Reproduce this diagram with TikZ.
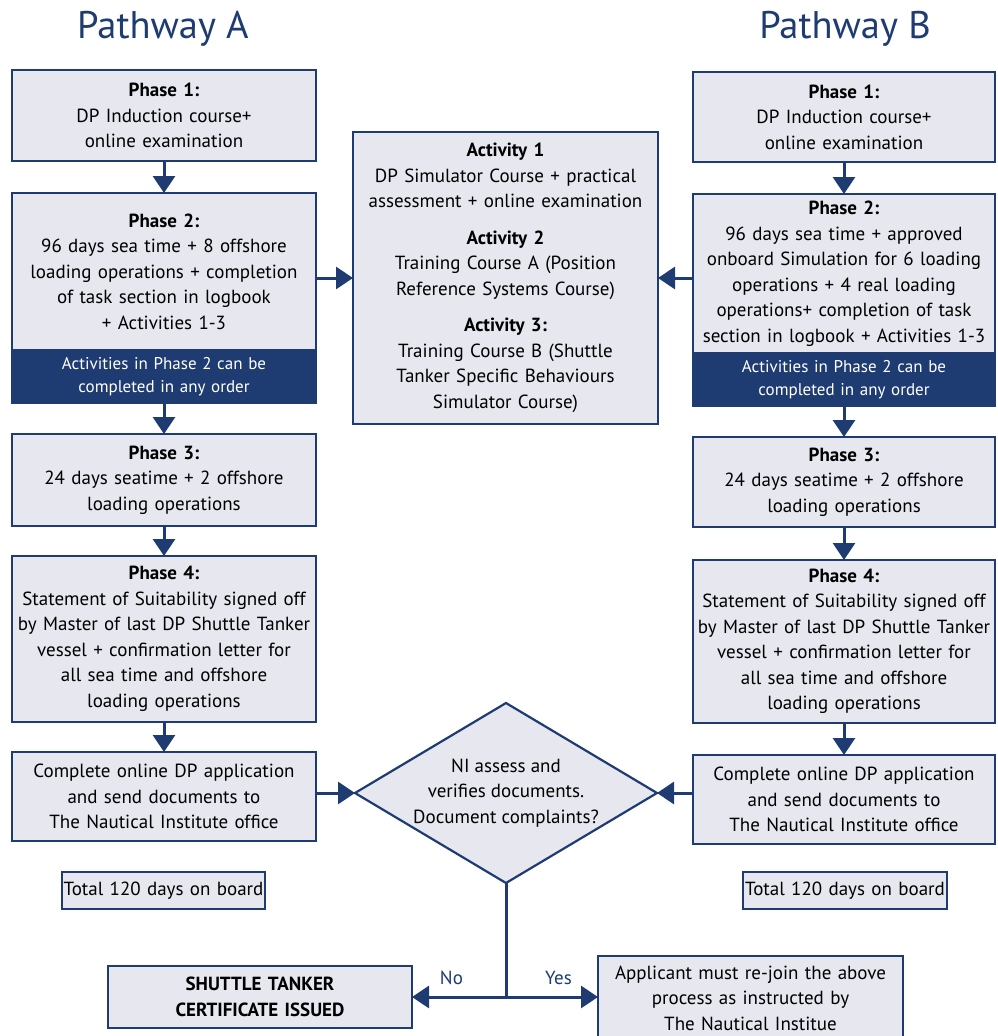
\documentclass[tikz,border=0pt]{standalone}
\usepackage{fontspec}
\setmainfont{PT Sans}
\usetikzlibrary{arrows.meta,positioning,shapes.geometric}
\definecolor{niblue}{HTML}{1E3C71}
\definecolor{nifill}{HTML}{E6E7EF}
\newcommand{\bodyfont}{\fontsize{19}{25.5}\selectfont}
\newcommand{\bandfont}{\fontsize{17}{23}\selectfont}
\newcommand{\headfont}{\fontsize{38.5}{44}\selectfont}
\tikzstyle{block} = [rectangle, draw=niblue, fill=nifill, line width=2.2pt,
    inner sep=0pt, outer sep=0pt, align=center, text width=296pt,
    minimum width=304pt, font=\bodyfont]
\tikzstyle{band} = [rectangle, draw=niblue, fill=niblue, line width=2.2pt,
    text=white, inner sep=0pt, outer sep=0pt, align=center, text width=296pt,
    minimum width=304pt, minimum height=53pt, font=\bandfont]
\tikzstyle{decision} = [diamond, draw=niblue, fill=nifill, line width=2.2pt,
    inner sep=0pt, outer sep=0pt, minimum width=302pt, minimum height=180pt]
\tikzstyle{flow} = [-{Triangle[length=17pt,width=22pt]}, draw=niblue, line width=3pt]

\begin{document}
\begin{tikzpicture}[x=1pt,y=-1pt]
  \useasboundingbox (0,0) rectangle (997,1036);

  \node[text=niblue, font=\headfont] (heada) at (163,29) {Pathway A};
  \node[text=niblue, font=\headfont] (headb) at (845,29) {Pathway B};

  % pathway A
  \node[block, minimum height=91pt]  (p1a) at (164,115.5)   {\textbf{Phase 1:}\\DP Induction course+\\online examination};
  \node[block, minimum height=157pt] (p2a) [below=32pt of p1a] {\textbf{Phase 2:}\\96 days sea time + 8 offshore\\loading operations + completion\\of task section in logbook\\+ Activities 1-3};
  \node[band]                        (n2a) [below=0pt of p2a]  {Activities in Phase 2 can be\\completed in any order};
  \node[block, minimum height=92pt]  (p3a) [below=31pt of n2a] {\textbf{Phase 3:}\\24 days seatime + 2 offshore\\loading operations};
  \node[block, minimum height=166pt] (p4a) [below=30pt of p3a] {\textbf{Phase 4:}\\Statement of Suitability signed off\\by Master of last DP Shuttle Tanker\\vessel + confirmation letter for\\all sea time and offshore\\loading operations};
  \node[block, minimum height=89pt]  (appa) [below=30pt of p4a] {Complete online DP application\\and send documents to\\The Nautical Institute office};
  \node[block, text width=203pt, minimum width=203pt, minimum height=37pt] (tota) at (163.5,890.5) {Total 120 days on board};

  % pathway B
  \node[block, minimum width=302pt, minimum height=90pt]  (p1b) at (844,117) {\textbf{Phase 1:}\\DP Induction course+\\online examination};
  \node[block, minimum width=302pt, minimum height=159pt] (p2b) [below=32pt of p1b] {\textbf{Phase 2:}\\96 days sea time + approved\\onboard Simulation for 6 loading\\operations + 4 real loading\\operations+ completion of task\\section in logbook + Activities 1-3};
  \node[band, minimum width=302pt]                        (n2b) [below=0pt of p2b] {Activities in Phase 2 can be\\completed in any order};
  \node[block, minimum width=302pt, minimum height=90pt]  (p3b) [below=31pt of n2b] {\textbf{Phase 3:}\\24 days seatime + 2 offshore\\loading operations};
  \node[block, minimum width=302pt, minimum height=163pt] (p4b) [below=33pt of p3b] {\textbf{Phase 4:}\\Statement of Suitability signed off\\by Master of last DP Shuttle Tanker\\vessel + confirmation letter for\\all sea time and offshore\\loading operations};
  \node[block, minimum width=302pt, minimum height=89pt]  (appb) [below=32pt of p4b] {Complete online DP application\\and send documents to\\The Nautical Institute office};
  \node[block, text width=204pt, minimum width=204pt, minimum height=37pt] (totb) at (845,890.5) {Total 120 days on board};

  % middle
  \node[block, minimum width=305pt, minimum height=292pt] (act) at (505.5,278) {\textbf{Activity 1}\\DP Simulator Course + practical\\assessment + online examination\\[11pt]\textbf{Activity 2}\\Training Course A (Position\\Reference Systems Course)\\[11pt]\textbf{Activity 3:}\\Training Course B (Shuttle\\Tanker Specific Behaviours\\Simulator Course)};
  \node[decision] (ni) at (506,793) {};
  \node[align=center, font=\bodyfont] (nitext) at (ni) {NI assess and\\verifies documents.\\Document complaints?};
  \node[block, minimum height=62pt] (cert) at (260,997) {\textbf{SHUTTLE TANKER}\\\textbf{CERTIFICATE ISSUED}};
  \node[block, minimum width=305pt, minimum height=84pt] (rejoin) at (750.5,998) {Applicant must re-join the above\\process as instructed by\\The Nautical Institue};

  \draw[flow] (p1a) -- (p2a);
  \draw[flow] (n2a) -- (p3a);
  \draw[flow] (p3a) -- (p4a);
  \draw[flow] (p4a) -- (appa);
  \draw[flow] (p1b) -- (p2b);
  \draw[flow] (n2b) -- (p3b);
  \draw[flow] (p3b) -- (p4b);
  \draw[flow] (p4b) -- (appb);
  \draw[flow] (p2a.east |- act.west) -- (act.west);
  \draw[flow] (p2b.west |- act.east) -- (act.east);
  \draw[flow] (appa.east |- ni.west) -- (ni.west);
  \draw[flow] (appb.west |- ni.east) -- (ni.east);
  \draw[niblue, line width=3pt] (ni.south) -- (ni.south |- cert.east) coordinate (fork);
  \draw[flow] (fork) -- node[pos=0.58, above=7pt, text=niblue, font=\bodyfont] {No} (cert.east);
  \draw[flow] (fork) -- node[pos=0.57, above=7pt, text=niblue, font=\bodyfont] {Yes} (fork -| rejoin.west);
\end{tikzpicture}
\end{document}
